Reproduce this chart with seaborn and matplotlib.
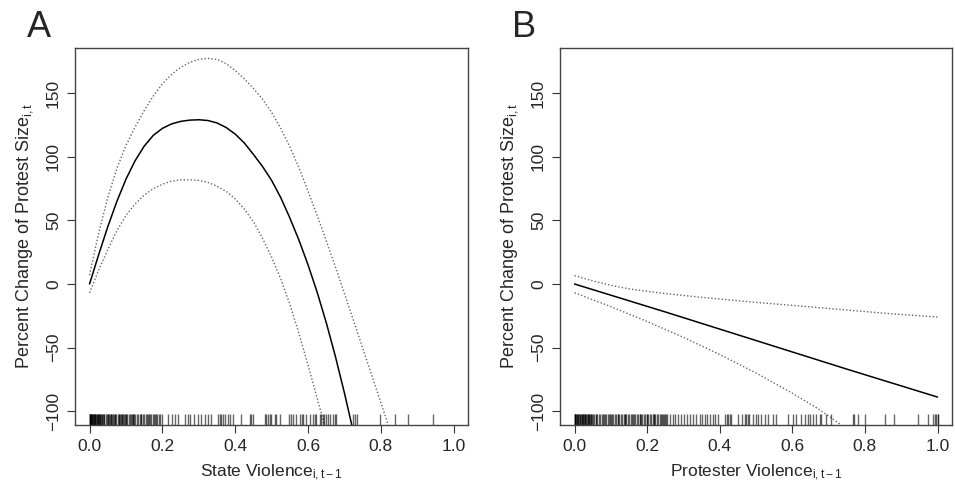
import numpy as np
import pandas as pd
import matplotlib
matplotlib.use('Agg')
import matplotlib.pyplot as plt
import seaborn as sns

sns.set_style('ticks')
plt.rcParams['font.family'] = ['Liberation Sans', 'DejaVu Sans']
plt.rcParams['mathtext.fontset'] = 'custom'
plt.rcParams['mathtext.rm'] = 'Liberation Sans'
plt.rcParams['mathtext.it'] = 'Liberation Sans'

# Panel A: state violence
a_x = [0.00, 0.025, 0.05, 0.075, 0.10, 0.125, 0.15, 0.175, 0.20, 0.225, 0.25, 0.275, 0.30, 0.325,
       0.35, 0.375, 0.40, 0.425, 0.45, 0.475, 0.50, 0.525, 0.55, 0.575, 0.60, 0.625, 0.65, 0.675,
       0.70, 0.72]
a_fit = [0, 23, 45, 65, 82.5, 97, 108.5, 117, 122.5, 126, 128, 129, 129.3, 128.7, 126.8, 123.2,
         118, 111, 102, 92.5, 81.5, 68, 52, 34.5, 15, -6.5, -30.5, -57, -86, -111]

a_up_x = [0.00, 0.025, 0.05, 0.075, 0.10, 0.125, 0.15, 0.175, 0.20, 0.225, 0.25, 0.275, 0.30, 0.325,
          0.35, 0.375, 0.40, 0.425, 0.45, 0.475, 0.50, 0.525, 0.55, 0.575, 0.60, 0.625, 0.65, 0.675,
          0.70, 0.725, 0.75, 0.775, 0.80, 0.82]
a_up = [7, 40, 68, 91, 109, 123.5, 136.5, 148, 157.5, 165, 170.5, 174.5, 176.8, 177.6, 176.8,
        173.5, 168, 161.5, 154, 145.5, 135, 122.5, 108, 91.5, 73, 54, 34, 13.5, -7.5, -29, -50.5,
        -72, -93.5, -111]

a_lo_x = [0.00, 0.025, 0.05, 0.075, 0.10, 0.125, 0.15, 0.175, 0.20, 0.225, 0.25, 0.275, 0.30, 0.325,
          0.35, 0.375, 0.40, 0.425, 0.45, 0.475, 0.50, 0.525, 0.55, 0.575, 0.60, 0.625, 0.645]
a_lo = [-7, 11, 27, 42, 54, 63, 70, 75, 78.5, 81, 82, 82, 81.5, 80, 77, 73, 67, 59, 49, 36, 21, 4,
        -16, -39, -64, -90, -111]

a_rug = [0.000, 0.002, 0.003, 0.005, 0.006, 0.008, 0.010, 0.011, 0.013, 0.015, 0.016, 0.018,
         0.020, 0.022, 0.024, 0.025, 0.027, 0.029, 0.031, 0.033, 0.035, 0.037, 0.039,
         0.0, 0.0, 0.0, 0.005, 0.01, 0.015, 0.02, 0.03,
         0.041, 0.044, 0.047, 0.05, 0.053, 0.056, 0.059, 0.062, 0.065, 0.068, 0.071, 0.074,
         0.077, 0.08, 0.083, 0.086, 0.089, 0.092, 0.095, 0.098, 0.101, 0.104, 0.107, 0.11,
         0.113, 0.116, 0.119, 0.122, 0.126, 0.13, 0.134, 0.138, 0.142, 0.146, 0.15, 0.154,
         0.158, 0.162, 0.166, 0.17, 0.174, 0.178, 0.182, 0.186, 0.19, 0.194, 0.198,
         0.05, 0.06, 0.07, 0.08, 0.09, 0.10, 0.12, 0.14, 0.16, 0.18,
         0.215, 0.226, 0.234, 0.243, 0.261, 0.27, 0.277, 0.288, 0.298, 0.307, 0.316, 0.325,
         0.334, 0.353, 0.357, 0.362, 0.366, 0.371, 0.38, 0.385, 0.394, 0.417, 0.44, 0.444,
         0.449, 0.481, 0.485, 0.49, 0.495, 0.499, 0.508, 0.513, 0.522, 0.549, 0.554, 0.558,
         0.568, 0.577, 0.582, 0.586, 0.595, 0.604, 0.613, 0.618, 0.623, 0.632, 0.636, 0.641,
         0.645, 0.65, 0.654, 0.659, 0.668, 0.673, 0.678, 0.723, 0.728, 0.733, 0.797, 0.838,
         0.874, 0.943]

# Panel B: protester violence
b_x = [0.0, 0.25, 0.5, 0.75, 1.0]
b_fit = [0, -22, -44.5, -67, -89]

b_up_x = [0.0, 0.05, 0.10, 0.15, 0.20, 0.25, 0.35, 0.50, 0.65, 0.75, 0.875, 1.0]
b_up = [6.6, 2.5, -1, -3.8, -5.8, -7.5, -10.5, -14.5, -18, -20.5, -23.5, -26]

b_lo_x = [0.0, 0.10, 0.20, 0.30, 0.40, 0.50, 0.60, 0.67, 0.735]
b_lo = [-6.9, -17.8, -29.5, -42, -55.5, -70, -86, -98, -111]

b_rug = [0.000, 0.002, 0.004, 0.006, 0.008, 0.010, 0.012, 0.014, 0.016, 0.018, 0.020, 0.022,
         0.024, 0.026, 0.028, 0.030, 0.032, 0.034, 0.036, 0.038, 0.040, 0.042, 0.044, 0.046,
         0.048, 0.0, 0.0, 0.0, 0.01, 0.02, 0.03, 0.04,
         0.051, 0.055, 0.059, 0.063, 0.067, 0.071, 0.075, 0.079, 0.083, 0.087, 0.091, 0.095,
         0.099, 0.103, 0.107, 0.111, 0.115, 0.119, 0.123, 0.127, 0.131, 0.135, 0.139, 0.143,
         0.147, 0.151, 0.155, 0.159, 0.163, 0.167, 0.171, 0.175, 0.179, 0.183, 0.187, 0.191,
         0.195, 0.199, 0.203, 0.207, 0.211, 0.215, 0.219, 0.223, 0.227, 0.231, 0.235, 0.239,
         0.243, 0.247, 0.251, 0.255,
         0.06, 0.08, 0.10, 0.12, 0.14, 0.16, 0.18, 0.20, 0.22, 0.24, 0.25,
         0.262, 0.27, 0.278, 0.286, 0.294, 0.302, 0.31, 0.318, 0.326, 0.336, 0.345, 0.352,
         0.359, 0.366, 0.373, 0.382, 0.388, 0.396, 0.414, 0.419, 0.423, 0.428, 0.432, 0.451,
         0.46, 0.469, 0.473, 0.478, 0.482, 0.492, 0.501, 0.505, 0.514, 0.524, 0.533, 0.547,
         0.556, 0.588, 0.602, 0.611, 0.625, 0.634, 0.643, 0.648, 0.657, 0.666, 0.675, 0.68,
         0.693, 0.707, 0.767, 0.771, 0.78, 0.799, 0.854, 0.881, 0.945, 0.973, 0.987, 0.993,
         0.997, 1.0, 1.0]

x_ticks = [0.0, 0.2, 0.4, 0.6, 0.8, 1.0]
y_ticks = [-100, -50, 0, 50, 100, 150]

fig = plt.figure(figsize=(9.55, 4.87), dpi=100)
ax_a = fig.add_axes([0.0785, 0.1273, 0.4119, 0.7747])
ax_b = fig.add_axes([0.5864, 0.1273, 0.4105, 0.7747])

panels = [
    (ax_a, a_x, a_fit, a_up_x, a_up, a_lo_x, a_lo, a_rug, r'State Violence$_{\mathrm{i,t-1}}$', 'A'),
    (ax_b, b_x, b_fit, b_up_x, b_up, b_lo_x, b_lo, b_rug, r'Protester Violence$_{\mathrm{i,t-1}}$', 'B'),
]

for ax, x, fit, ux, up, lx, lo, rug, xlabel, letter in panels:
    sns.lineplot(x=x, y=fit, ax=ax, color='black', lw=1.1, sort=False)
    sns.lineplot(x=ux, y=up, ax=ax, color='#666666', lw=1.0, linestyle=(0, (1, 1.5)), sort=False)
    sns.lineplot(x=lx, y=lo, ax=ax, color='#666666', lw=1.0, linestyle=(0, (1, 1.5)), sort=False)
    sns.rugplot(x=rug, ax=ax, height=0.03, color='black', alpha=0.6, lw=1.0)

    ax.set_xlim(-0.04, 1.04)
    ax.set_ylim(-111, 186)
    ax.set_xticks(x_ticks)
    ax.set_xticklabels(['0.0', '0.2', '0.4', '0.6', '0.8', '1.0'])
    ax.set_yticks(y_ticks)
    ax.set_yticklabels(['\u2212100', '\u221250', '0', '50', '100', '150'], rotation=90, va='center')
    ax.tick_params(axis='both', direction='out', length=6, width=0.8, labelsize=12.5,
                   color='#333333', pad=4)
    for s in ax.spines.values():
        s.set_visible(True)
        s.set_linewidth(1.0)
        s.set_color('#444444')
    ax.set_xlabel(xlabel, fontsize=12.5, labelpad=6)
    ax.set_ylabel(r'Percent Change of Protest Size$_{\mathrm{i,t}}$', fontsize=13, labelpad=8)
    pos = ax.get_position()
    fig.text(pos.x0 - 0.05, 0.924, letter, fontsize=26, ha='left', va='baseline')

fig.savefig('out.png', dpi=100)
